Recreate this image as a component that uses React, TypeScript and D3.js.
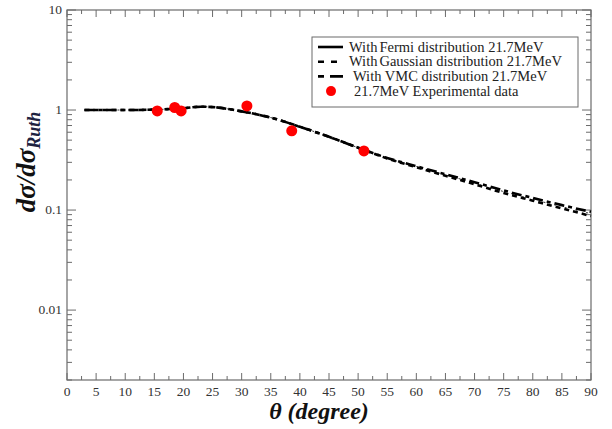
import { useEffect, useRef } from 'react'
import * as d3 from 'd3'

// curves (angle in degrees, dσ/dσRuth)
const angles = [3, 5, 10, 15, 20, 23, 25, 30, 35, 40, 45, 50, 55, 60, 65, 70, 75, 80, 85, 90]
const fermi = [1.0, 1.0, 1.0, 1.01, 1.04, 1.08, 1.07, 0.97, 0.84, 0.68, 0.54, 0.42, 0.33, 0.272, 0.225, 0.186, 0.153, 0.128, 0.108, 0.092]
const gaussian = [1.0, 1.0, 1.0, 1.01, 1.04, 1.08, 1.07, 0.97, 0.84, 0.68, 0.54, 0.42, 0.328, 0.268, 0.22, 0.181, 0.148, 0.124, 0.104, 0.087]
const vmc = [1.0, 1.0, 1.0, 1.01, 1.04, 1.08, 1.07, 0.97, 0.84, 0.68, 0.54, 0.42, 0.332, 0.274, 0.228, 0.19, 0.157, 0.132, 0.112, 0.096]

const expAngles = [15.5, 18.5, 19.6, 30.9, 38.6, 51.0]
const expValues = [0.98, 1.06, 0.98, 1.1, 0.62, 0.39]

const xTicks = d3.range(0, 91, 5)
const yTicks = [0.01, 0.1, 1, 10]
const yTickLabels = ['0.01', '0.1', '1', '10']

const legendLabels = [
  ['With', 'Fermi distribution 21.7MeV'],
  ['With', 'Gaussian distribution 21.7MeV'],
  ['With', 'VMC distribution 21.7MeV'],
  ['', '21.7MeV Experimental data'],
]
const lineDashes = ['none', '5,4', '10,4,4,4']

export default function App() {
  const ref = useRef<SVGSVGElement>(null)

  useEffect(() => {
    const W = 612, H = 429
    const m = { left: 67, right: 21, top: 10, bottom: 49 }
    const svg = d3.select(ref.current)
    svg.selectAll('*').remove()

    const x = d3.scaleLinear().domain([0, 90]).range([m.left, W - m.right])
    const y = d3.scaleLog().domain([0.002, 10]).range([H - m.bottom, m.top])
    const x0 = x.range()[0], x1 = x.range()[1]
    const y0 = y.range()[0], y1 = y.range()[1]
    const axisCol = '#6b6b6b'
    const serif = 'Liberation Serif, Times New Roman, Times, DejaVu Serif, serif'

    // x ticks (bottom & top, inward)
    const xMinor = d3.range(2.5, 90, 5)
    const tg = svg.append('g').attr('stroke', axisCol).attr('stroke-width', 1)
    xTicks.forEach(t => {
      tg.append('line').attr('x1', x(t)).attr('x2', x(t)).attr('y1', y0).attr('y2', y0 - 7)
      tg.append('line').attr('x1', x(t)).attr('x2', x(t)).attr('y1', y1).attr('y2', y1 + 7)
    })
    xMinor.forEach(t => {
      tg.append('line').attr('x1', x(t)).attr('x2', x(t)).attr('y1', y0).attr('y2', y0 - 4)
      tg.append('line').attr('x1', x(t)).attr('x2', x(t)).attr('y1', y1).attr('y2', y1 + 4)
    })
    // y ticks (left & right)
    const yMinor: number[] = []
    ;[0.001, 0.01, 0.1, 1].forEach(d => d3.range(2, 10).forEach(k => {
      const v = d * k
      if (v >= 0.002 && v <= 10) yMinor.push(v)
    }))
    yTicks.forEach(t => {
      tg.append('line').attr('x1', x0).attr('x2', x0 + 9).attr('y1', y(t)).attr('y2', y(t))
      tg.append('line').attr('x1', x1).attr('x2', x1 - 9).attr('y1', y(t)).attr('y2', y(t))
    })
    yMinor.forEach(t => {
      tg.append('line').attr('x1', x0).attr('x2', x0 + 5).attr('y1', y(t)).attr('y2', y(t))
      tg.append('line').attr('x1', x1).attr('x2', x1 - 5).attr('y1', y(t)).attr('y2', y(t))
    })

    svg.append('rect').attr('x', x0).attr('y', y1).attr('width', x1 - x0).attr('height', y0 - y1)
      .attr('fill', 'none').attr('stroke', axisCol).attr('stroke-width', 1.2)

    // tick labels
    svg.append('g').selectAll('text').data(xTicks).join('text')
      .attr('x', d => x(d)).attr('y', y0 + 16).attr('text-anchor', 'middle')
      .attr('font-family', serif).attr('font-size', 13.5).attr('fill', '#333')
      .text(d => String(d))
    svg.append('g').selectAll('text').data(yTicks).join('text')
      .attr('x', x0 - 5).attr('y', d => y(d) + 4).attr('text-anchor', 'end')
      .attr('font-family', serif).attr('font-size', 13.5).attr('fill', '#333')
      .text((_, i) => yTickLabels[i])

    // curves
    const line = d3.line<number>().x((_, i) => x(angles[i])).y(d => y(d)).curve(d3.curveMonotoneX)
    ;[fermi, gaussian, vmc].forEach((s, i) => {
      svg.append('path').attr('d', line(s) || '').attr('fill', 'none')
        .attr('stroke', '#000').attr('stroke-width', 2.6)
        .attr('stroke-dasharray', lineDashes[i])
        .attr('opacity', i === 0 ? 0 : 1)
    })
    // solid Fermi mostly hidden under the dash pattern, show a thin trace
    svg.append('path').attr('d', line(fermi) || '').attr('fill', 'none')
      .attr('stroke', '#000').attr('stroke-width', 0.8)
      .attr('stroke-dasharray', '2,9')

    // experimental points
    svg.append('g').selectAll('circle').data(expAngles).join('circle')
      .attr('cx', d => x(d)).attr('cy', (_, i) => y(expValues[i])).attr('r', 5.5)
      .attr('fill', '#f00')

    // legend
    const lg = svg.append('g')
    lg.append('rect').attr('x', 312).attr('y', 37).attr('width', 266).attr('height', 70)
      .attr('fill', '#fff').attr('stroke', axisCol).attr('stroke-width', 1)
    legendLabels.forEach((lab, i) => {
      const ly = 47 + i * 14.7
      if (i < 3) {
        lg.append('line').attr('x1', 318).attr('x2', 343).attr('y1', ly).attr('y2', ly)
          .attr('stroke', '#000').attr('stroke-width', 2.6)
          .attr('stroke-dasharray', i === 0 ? 'none' : i === 1 ? '6,7' : '6,6,13,4')
      } else {
        lg.append('circle').attr('cx', 331).attr('cy', ly).attr('r', 5).attr('fill', '#f00')
      }
      const t = lg.append('text').attr('x', i === 3 ? 352 : i === 2 ? 353 : 349).attr('y', ly + 4.5)
        .attr('font-family', serif).attr('font-size', 14.5).attr('fill', '#222')
      if (lab[0]) t.append('tspan').text(lab[0] + (i === 2 ? ' ' : ''))
      t.append('tspan').attr('dx', i === 2 ? 0 : 2).text(lab[1])
    })

    // axis titles
    svg.append('text')
      .attr('transform', `translate(35,162) rotate(-90)`)
      .attr('text-anchor', 'middle').attr('font-family', serif)
      .attr('font-weight', 'bold').attr('font-style', 'italic').attr('font-size', 27).attr('fill', '#111')
      .call(t => {
        t.append('tspan').text('dσ/dσ')
        t.append('tspan').attr('font-size', 18).attr('dy', 5).attr('fill', '#1e2240').text('Ruth')
      })
    svg.append('text')
      .attr('x', 319).attr('y', 419).attr('text-anchor', 'middle')
      .attr('font-family', serif).attr('font-weight', 'bold').attr('font-style', 'italic')
      .attr('font-size', 24).attr('fill', '#111')
      .text('θ (degree)')
  }, [])

  return (
    <div style={{ position: 'absolute', left: 0, top: 0, width: 612, height: 429, background: '#fff' }}>
      <svg ref={ref} width={612} height={429} style={{ display: 'block' }} />
    </div>
  )
}
